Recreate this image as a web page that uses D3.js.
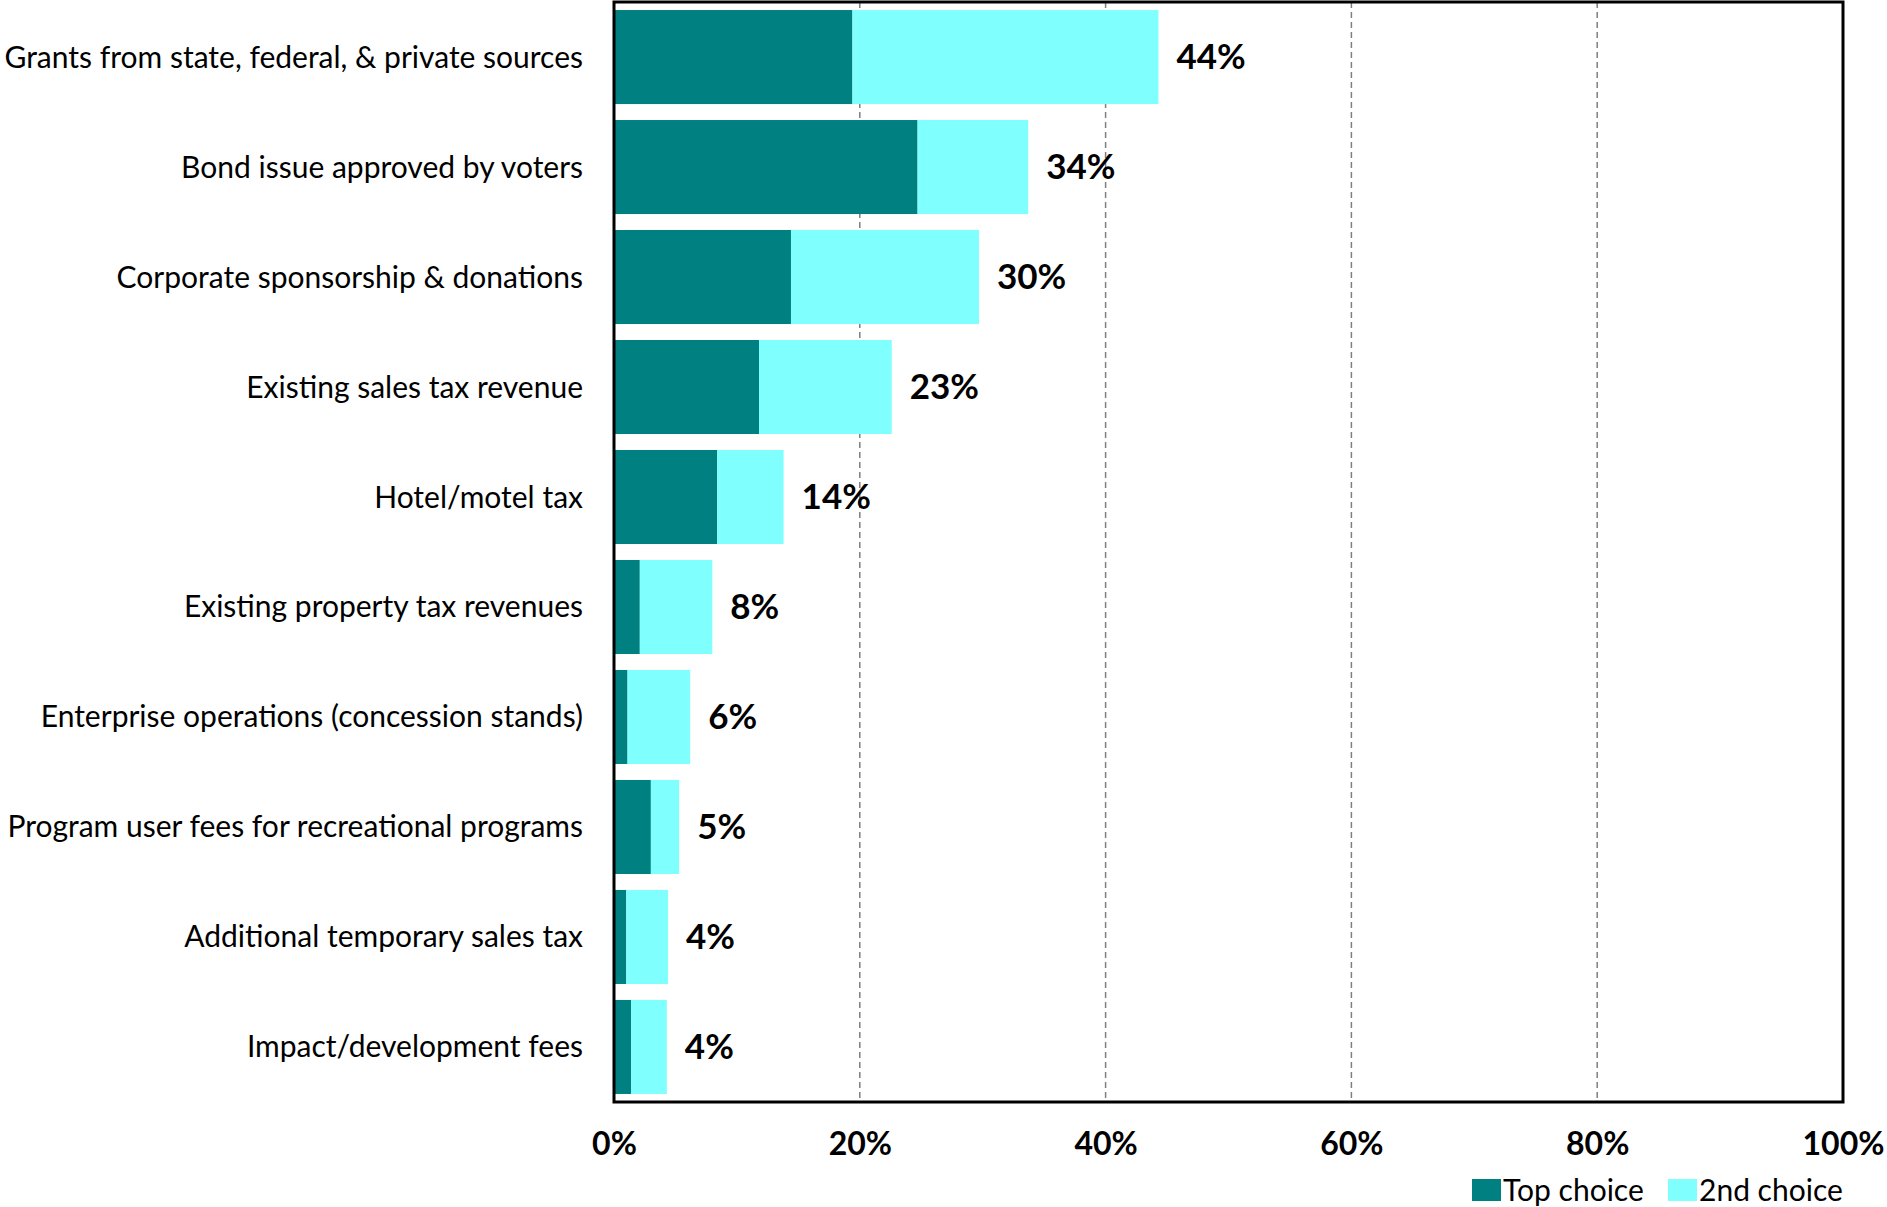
<!DOCTYPE html>
<html lang="en">
<head>
  <meta charset="UTF-8" />
  <title>Funding sources</title>
  <style>
    body { margin: 0; background: #fff; }
    svg { display: block; font-family: Lato, "Open Sans", sans-serif; }
  </style>
</head>
<body>
  <div id="chart"></div>
  <script src="https://d3js.org/d3.v7.min.js"></script>
  <script>
    var categories = [
      "Grants from state, federal, & private sources",
      "Bond issue approved by voters",
      "Corporate sponsorship & donations",
      "Existing sales tax revenue",
      "Hotel/motel tax",
      "Existing property tax revenues",
      "Enterprise operations (concession stands)",
      "Program user fees for recreational programs",
      "Additional temporary sales tax",
      "Impact/development fees"
    ];
    var topChoice = [19.4, 24.7, 14.4, 11.8, 8.4, 2.1, 1.1, 3.0, 1.0, 1.4];
    var secondChoice = [24.9, 9.0, 15.3, 10.8, 5.4, 5.9, 5.1, 2.3, 3.4, 2.9];
    var totalLabels = ["44%", "34%", "30%", "23%", "14%", "8%", "6%", "5%", "4%", "4%"];
    var xTicks = [0, 20, 40, 60, 80, 100];
    var seriesNames = ["Top choice", "2nd choice"];
    var colors = ["#008080", "#80FFFF"];

    var w = 1887;
    var h = 1207;
    // plot box (note: "top" is reserved on window, so use a prefix)
    var pLeft = 614, pRight = 1843, pTop = 2, pBottom = 1102;

    var svg = d3.select("#chart").append("svg")
      .attr("width", w)
      .attr("height", h);

    var x = d3.scaleLinear().domain([0, 100]).range([pLeft, pRight]);
    var y = d3.scaleBand().domain(categories).range([pTop, pBottom])
      .paddingInner(0.145)
      .paddingOuter(0.073);

    // dashed gridlines
    svg.selectAll("line.grid")
      .data(xTicks.filter(function(d) { return d > 0 && d < 100; }))
      .enter()
      .append("line")
      .attr("class", "grid")
      .attr("x1", function(d) { return x(d); })
      .attr("x2", function(d) { return x(d); })
      .attr("y1", pTop)
      .attr("y2", pBottom)
      .attr("stroke", "#7f7f7f")
      .attr("stroke-width", 1.5)
      .attr("stroke-dasharray", "6,4");

    var rows = categories.map(function(c, i) {
      return { cat: c, first: topChoice[i], second: secondChoice[i], label: totalLabels[i] };
    });

    // top choice bars
    svg.selectAll("rect.first")
      .data(rows)
      .enter()
      .append("rect")
      .attr("class", "first")
      .attr("x", x(0))
      .attr("y", function(d) { return y(d.cat); })
      .attr("width", function(d) { return x(d.first) - x(0); })
      .attr("height", y.bandwidth())
      .attr("fill", colors[0]);

    // second choice bars, stacked
    svg.selectAll("rect.second")
      .data(rows)
      .enter()
      .append("rect")
      .attr("class", "second")
      .attr("x", function(d) { return x(d.first); })
      .attr("y", function(d) { return y(d.cat); })
      .attr("width", function(d) { return x(d.first + d.second) - x(d.first); })
      .attr("height", y.bandwidth())
      .attr("fill", colors[1]);

    // total labels
    svg.selectAll("text.total")
      .data(rows)
      .enter()
      .append("text")
      .attr("class", "total")
      .attr("x", function(d) { return x(d.first + d.second) + 18; })
      .attr("y", function(d) { return y(d.cat) + y.bandwidth() / 2; })
      .attr("dy", "0.35em")
      .style("font-size", "35px")
      .style("font-weight", "bold")
      .text(function(d) { return d.label; });

    // category labels
    svg.selectAll("text.cat")
      .data(rows)
      .enter()
      .append("text")
      .attr("class", "cat")
      .attr("x", pLeft - 31)
      .attr("y", function(d) { return y(d.cat) + y.bandwidth() / 2; })
      .attr("dy", "0.35em")
      .attr("text-anchor", "end")
      .style("font-size", "30px")
      .text(function(d) { return d.cat; });

    // plot border
    svg.append("rect")
      .attr("x", pLeft)
      .attr("y", pTop)
      .attr("width", pRight - pLeft)
      .attr("height", pBottom - pTop)
      .attr("fill", "none")
      .attr("stroke", "#000")
      .attr("stroke-width", 3);

    // x axis tick labels
    var xAxis = d3.axisBottom(x)
      .tickValues(xTicks)
      .tickSize(0)
      .tickPadding(0)
      .tickFormat(function(d) { return d + "%"; });

    var ax = svg.append("g")
      .attr("transform", "translate(0," + (pBottom + 30) + ")")
      .call(xAxis);
    ax.select(".domain").remove();
    ax.selectAll("text")
      .style("font-family", "Lato, 'Open Sans', sans-serif")
      .style("font-size", "32px")
      .style("font-weight", "bold")
      .attr("fill", "#000");

    // legend
    var legendX = [1472, 1668];
    var legend = svg.selectAll("g.legend")
      .data(seriesNames)
      .enter()
      .append("g")
      .attr("class", "legend")
      .attr("transform", function(d, i) { return "translate(" + legendX[i] + ",1179)"; });

    legend.append("rect")
      .attr("width", 29)
      .attr("height", 22)
      .attr("fill", function(d, i) { return colors[i]; });

    legend.append("text")
      .attr("x", 31)
      .attr("y", 22)
      .style("font-size", "30px")
      .text(function(d) { return d; });
  </script>
</body>
</html>
